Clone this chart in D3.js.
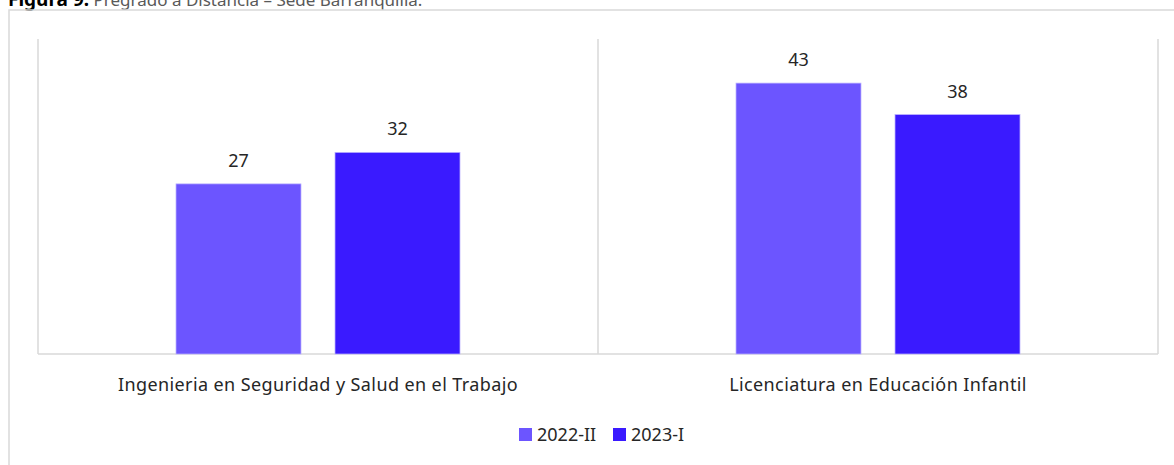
<!DOCTYPE html>
<html>
<head>
<meta charset="utf-8">
<script src="https://cdn.jsdelivr.net/npm/d3@7"></script>
<style>
  body { margin: 0; background: #fff; }
  svg { display: block; font-family: "Noto Sans", "Open Sans", sans-serif; }
</style>
</head>
<body>
<svg id="chart" width="1174" height="465"></svg>
<script>
const CATEGORIES = [
    "Ingenieria en Seguridad y Salud en el Trabajo",
    "Licenciatura en Educación Infantil",
];
const SERIES = ["2022-II", "2023-I"];
const VALUES_2022_II = [27, 43];
const VALUES_2023_I = [32, 38];
const Y_MAX = 50;

const COLORS = ["#6c55ff", "#3a1aff"];

const WIDTH = 1174;
const HEIGHT = 465;
const PLOT_LEFT = 38;
const PLOT_RIGHT = 1158;
const PLOT_TOP = 39;
const PLOT_BOTTOM = 354;

const svg = d3.select("#chart");

// caption, cut off at the top like in the original document
const caption = svg.append("text")
    .attr("x", 8)
    .attr("y", 6)
    .attr("font-size", 17)
    .attr("fill", "#595959");
caption.append("tspan").attr("font-weight", "bold").attr("font-size", 19).attr("fill", "#000").text("Figura 9.");
caption.append("tspan").text(" Pregrado a Distancia – Sede Barranquilla.");

// outer chart frame
svg.append("path")
    .attr("d", `M9,${HEIGHT} V10 H${WIDTH}`)
    .attr("fill", "none")
    .attr("stroke", "#d9d9d9")
    .attr("stroke-width", 1.5);

const x = d3.scaleBand()
    .domain(CATEGORIES)
    .range([PLOT_LEFT, PLOT_RIGHT]);

const x1 = d3.scaleBand()
    .domain(SERIES)
    .range([0, x.bandwidth()])
    .paddingInner(0.214)
    .paddingOuter(0.868);

const y = d3.scaleLinear()
    .domain([0, Y_MAX])
    .range([PLOT_BOTTOM, PLOT_TOP]);

const rows = CATEGORIES.map((c, i) => ({
    category: c,
    values: [VALUES_2022_II[i], VALUES_2023_I[i]],
}));

// plot area borders: left, right, bottom and category separators
const grid = svg.append("g").attr("stroke", "#d9d9d9").attr("stroke-width", 1.5);
[PLOT_LEFT, ...CATEGORIES.slice(1).map((c) => x(c)), PLOT_RIGHT].forEach((px) => {
    grid.append("line")
        .attr("x1", px).attr("x2", px)
        .attr("y1", PLOT_TOP).attr("y2", PLOT_BOTTOM);
});
grid.append("line")
    .attr("x1", PLOT_LEFT).attr("x2", PLOT_RIGHT)
    .attr("y1", PLOT_BOTTOM).attr("y2", PLOT_BOTTOM);

const groups = svg.selectAll(".group")
    .data(rows)
    .enter()
    .append("g")
    .attr("class", "group")
    .attr("transform", (d) => `translate(${x(d.category)},0)`);

groups.selectAll("rect")
    .data((d) => d.values.map((v, i) => ({ series: SERIES[i], value: v, idx: i })))
    .enter()
    .append("rect")
    .attr("x", (d) => x1(d.series))
    .attr("y", (d) => y(d.value))
    .attr("width", x1.bandwidth())
    .attr("height", (d) => PLOT_BOTTOM - y(d.value))
    .attr("fill", (d) => COLORS[d.idx])
    .attr("stroke", "#b9b0ff")
    .attr("stroke-width", 0.75);

groups.selectAll(".value-label")
    .data((d) => d.values.map((v, i) => ({ series: SERIES[i], value: v })))
    .enter()
    .append("text")
    .attr("class", "value-label")
    .attr("x", (d) => x1(d.series) + x1.bandwidth() / 2)
    .attr("y", (d) => y(d.value) - 17)
    .attr("text-anchor", "middle")
    .attr("font-size", 18)
    .attr("fill", "#262626")
    .text((d) => d.value);

// category labels
svg.selectAll(".cat-label")
    .data(CATEGORIES)
    .enter()
    .append("text")
    .attr("class", "cat-label")
    .attr("x", (d) => x(d) + x.bandwidth() / 2)
    .attr("y", 391)
    .attr("text-anchor", "middle")
    .attr("font-size", 18)
    .attr("letter-spacing", 0.4)
    .attr("fill", "#262626")
    .text((d) => d);

// legend
const legendX = [519, 613];
const legend = svg.selectAll(".legend")
    .data(SERIES)
    .enter()
    .append("g")
    .attr("class", "legend")
    .attr("transform", (_d, i) => `translate(${legendX[i]},428)`);

legend.append("rect")
    .attr("width", 13)
    .attr("height", 13)
    .attr("fill", (_d, i) => COLORS[i]);

legend.append("text")
    .attr("x", 18)
    .attr("y", 13)
    .attr("font-size", 18)
    .attr("fill", "#262626")
    .text((d) => d);
</script>
</body>
</html>
